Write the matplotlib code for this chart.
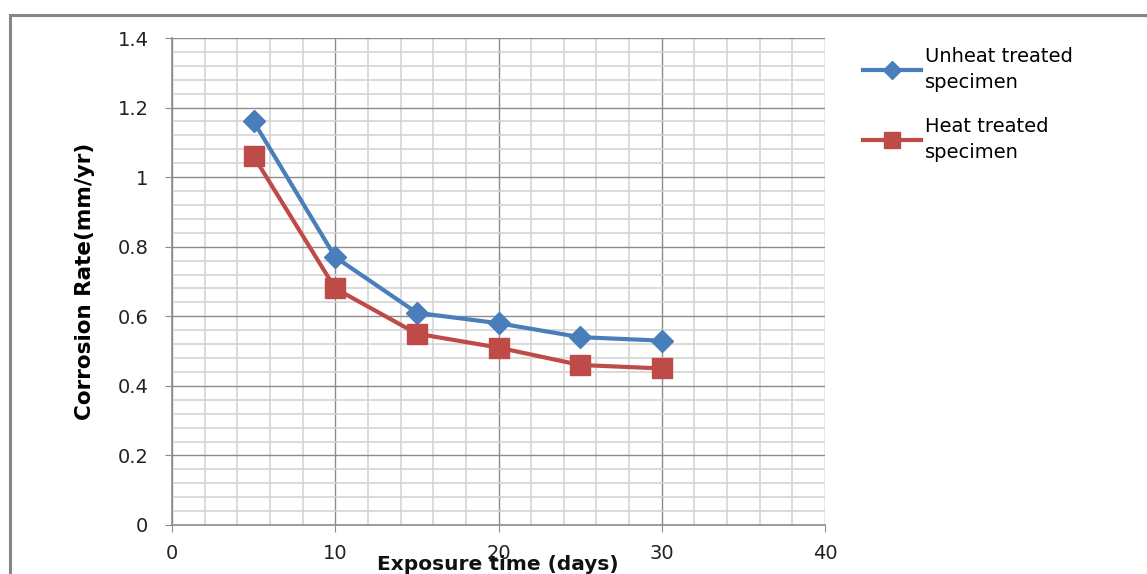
import matplotlib
matplotlib.use('Agg')
from matplotlib import pyplot as plt
from matplotlib.patches import Rectangle
from matplotlib.ticker import MultipleLocator

# exposure time (days) and corrosion rate (mm/yr)
days = [5, 10, 15, 20, 25, 30]
unheat_rate = [1.16, 0.77, 0.61, 0.58, 0.54, 0.53]
heat_rate = [1.06, 0.68, 0.55, 0.51, 0.46, 0.45]
series_labels = ['Unheat treated\nspecimen', 'Heat treated\nspecimen']

BLUE = '#4a7ebb'
RED = '#be4b48'

fig = plt.figure(figsize=(11.47, 5.74), dpi=100)
fig.patch.set_facecolor('white')

# outer chart frame, cut off by the image at right and bottom
frame = Rectangle((10 / 1147, -0.1), 1.2, 1 - 15 / 574 + 0.1,
                  transform=fig.transFigure, fill=False,
                  edgecolor='#868686', linewidth=2.2)
fig.patches.append(frame)

ax = fig.add_axes([172 / 1147, 1 - 525 / 574, 653 / 1147, 487 / 574])

ax.plot(days, unheat_rate, color=BLUE, linewidth=3, marker='D',
        markersize=11, label=series_labels[0], zorder=4)
ax.plot(days, heat_rate, color=RED, linewidth=3, marker='s',
        markersize=14.5, label=series_labels[1], zorder=5)

ax.set_xlim(0, 40)
ax.set_ylim(0, 1.4)
ax.xaxis.set_major_locator(MultipleLocator(10))
ax.xaxis.set_minor_locator(MultipleLocator(2))
ax.yaxis.set_major_locator(MultipleLocator(0.2))
ax.yaxis.set_minor_locator(MultipleLocator(0.04))
ax.set_yticks([0, 0.2, 0.4, 0.6, 0.8, 1.0, 1.2, 1.4])
ax.set_yticklabels(['0', '0.2', '0.4', '0.6', '0.8', '1', '1.2', '1.4'])

ax.grid(which='minor', color='#d4d4d4', linewidth=1.2)
ax.grid(which='major', color='#8c8c8c', linewidth=1.0)
ax.set_axisbelow(True)

for side in ['top', 'right']:
    ax.spines[side].set_visible(False)
for side in ['left', 'bottom']:
    ax.spines[side].set_color('#8c8c8c')
    ax.spines[side].set_linewidth(1.2)

ax.tick_params(which='major', direction='out', length=5, color='#8c8c8c',
               labelsize=14, labelcolor='#222222')
ax.tick_params(which='minor', length=0)
ax.tick_params(axis='x', pad=9)
ax.tick_params(axis='y', pad=12)

ax.set_ylabel('Corrosion Rate(mm/yr)', fontsize=15.5, fontweight='heavy',
              labelpad=16)
fig.text(498 / 1147, 1 - 564 / 574, 'Exposure time (days)', ha='center',
         va='center', fontsize=14.5, fontweight='bold', color='#111111')

leg = ax.legend(loc='upper left', bbox_to_anchor=(863 / 1147, 1 - 47 / 574),
                bbox_transform=fig.transFigure, frameon=False, fontsize=14,
                handlelength=3.0, handletextpad=0.2, labelspacing=1.3,
                borderaxespad=0, borderpad=0, markerscale=0.8)
for t in leg.get_texts():
    t.set_linespacing(1.45)

fig.savefig('out.png', dpi=100)
